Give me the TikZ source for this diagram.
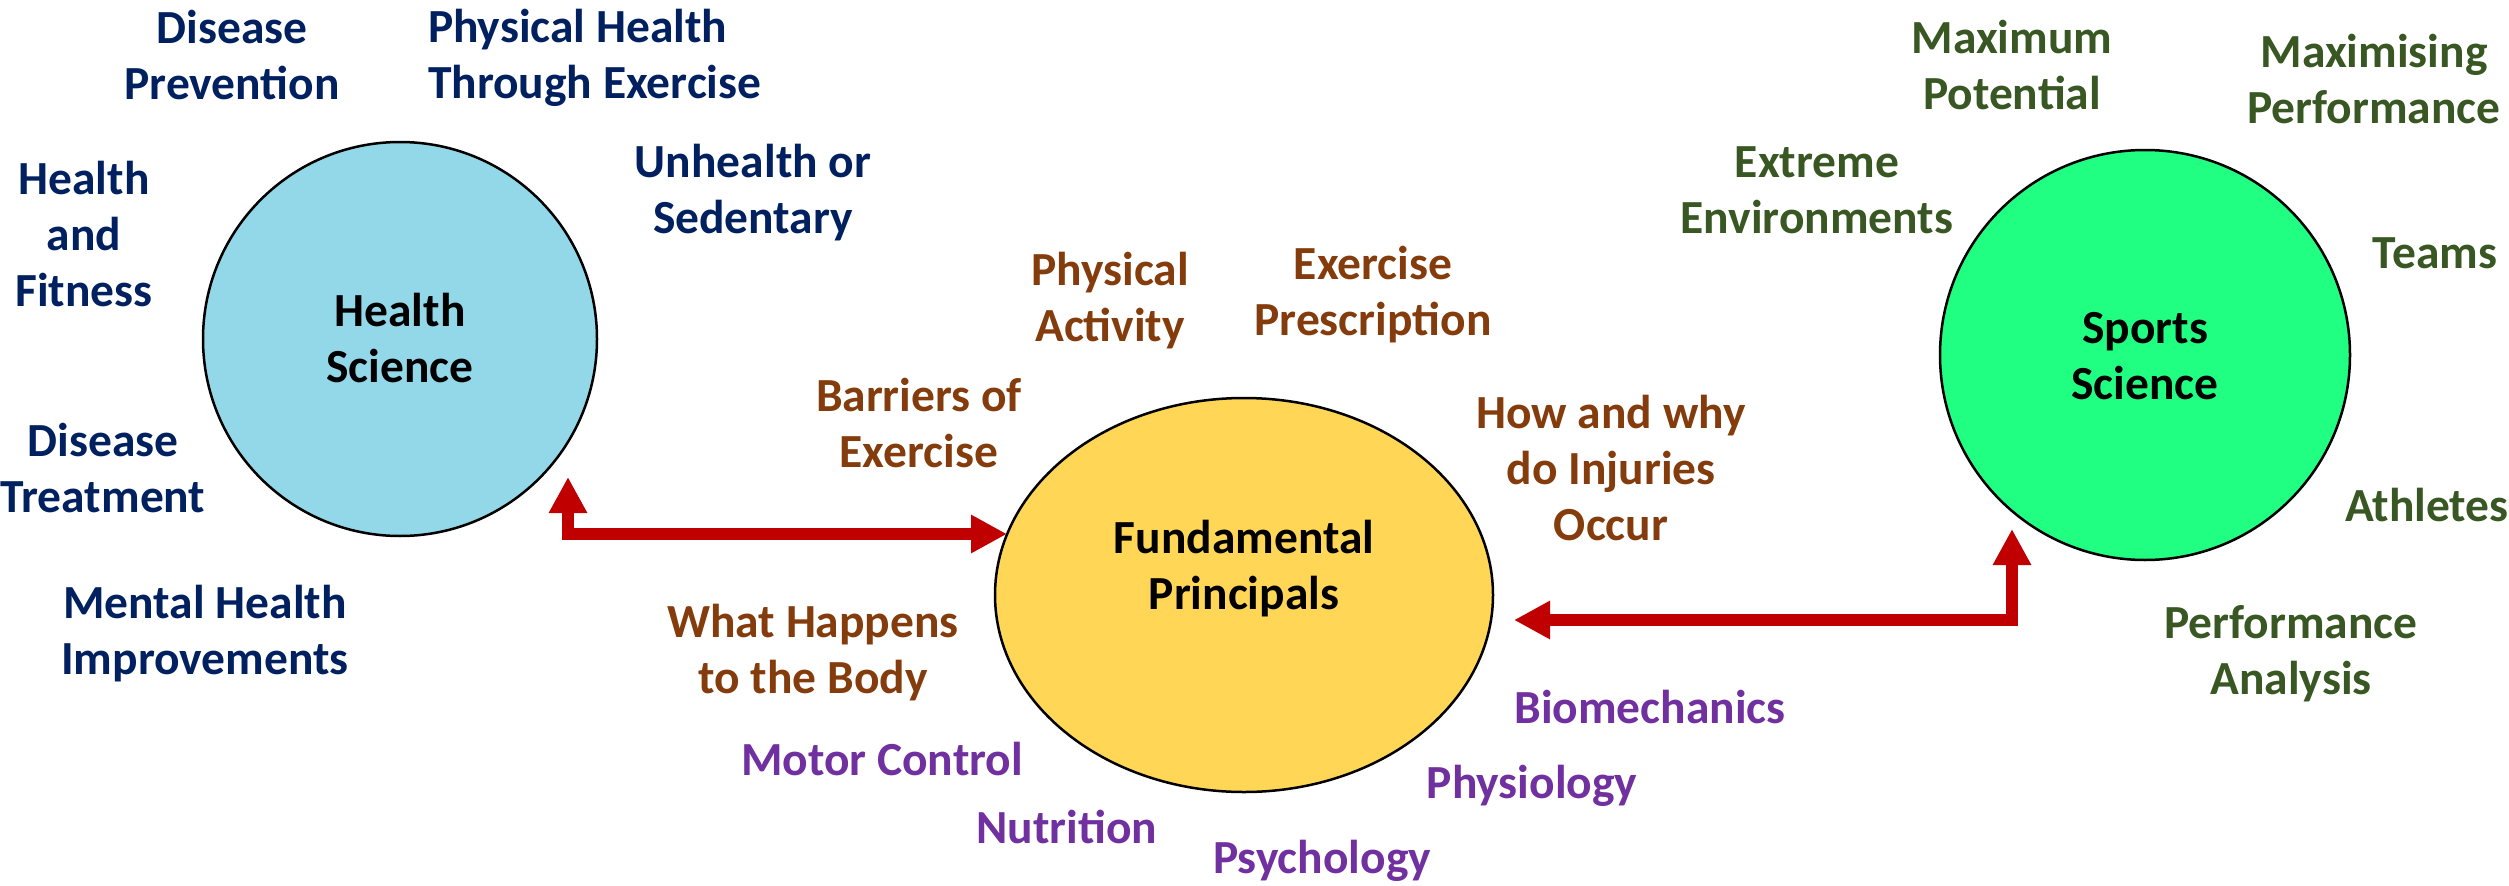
\documentclass[tikz,border=0pt]{standalone}
\usepackage{fontspec}
\setmainfont{Carlito}
\usetikzlibrary{arrows.meta,shapes.geometric}

\definecolor{navy}{HTML}{002060}
\definecolor{rust}{HTML}{843C0C}
\definecolor{plum}{HTML}{7030A0}
\definecolor{moss}{HTML}{385723}
\definecolor{arrowred}{HTML}{C00000}
\definecolor{skyfill}{HTML}{93D8E9}
\definecolor{sunfill}{HTML}{FFD655}
\definecolor{mintfill}{HTML}{20FF82}

% stacked lines whose baseline is the baseline of the first line
\newcommand{\stackc}[1]{\begin{tabular}[t]{@{}c@{}}#1\end{tabular}}
\newcommand{\stackl}[1]{\begin{tabular}[t]{@{}l@{}}#1\end{tabular}}

\tikzset{
  txt/.style={inner sep=0pt, outer sep=0pt, anchor=base,
              font=\fontsize{47.5}{56}\selectfont\bfseries},
  healthtxt/.style={txt, text=navy},
  coretxt/.style={txt, text=rust},
  disctxt/.style={txt, text=plum},
  sporttxt/.style={txt, text=moss},
  titletxt/.style={txt, text=black},
  topic/.style={draw=black, line width=2.5pt, inner sep=0pt},
  link/.style={draw=arrowred, line width=12pt, line join=miter,
               {Triangle[length=36pt,width=36pt]}-{Triangle[length=36pt,width=36pt]}}
}

\begin{document}
\begin{tikzpicture}[x=1pt, y=-1pt]
  \fill[white] (0,0) rectangle (2509,886);
  \useasboundingbox (0,0) rectangle (2509,886);

  % the three fields
  \node[topic, circle, minimum size=394pt, fill=skyfill] (hs) at (400,339) {};
  \node[topic, ellipse, minimum width=498pt, minimum height=394pt, fill=sunfill] (fp) at (1244,595) {};
  \node[topic, circle, minimum size=410pt, fill=mintfill] (ss) at (2145,355) {};

  \node[titletxt] (hstitle) at (400,326) {\stackc{Health\\Science}};
  \node[titletxt] (fptitle) at (1244,553) {\stackc{Fundamental\\Principals}};
  \node[titletxt] (sstitle) at (2145,343) {\stackc{Sports\\Science}};

  % health science topics
  \node[healthtxt] (prev) at (232,43) {\stackc{Disease\\Prevention}};
  \node[healthtxt, anchor=base west] (phys) at (428,42) {\stackl{Physical Health\\Through Exercise}};
  \node[healthtxt] (fit) at (84,194) {\stackc{Health\\and\\Fitness}};
  \node[healthtxt] (sed) at (753,177) {\stackc{Unhealth or\\Sedentary}};
  \node[healthtxt] (treat) at (103,456) {\stackc{Disease\\Treatment}};
  \node[healthtxt] (mental) at (205,618) {\stackc{Mental Health\\Improvements}};

  % fundamental principles topics
  \node[coretxt] (activity) at (1110,285) {\stackc{Physical\\Activity}};
  \node[coretxt] (prescr) at (1373,279) {\stackc{Exercise\\Prescription}};
  \node[coretxt] (barriers) at (919,411) {\stackc{Barriers of\\Exercise}};
  \node[coretxt] (injury) at (1611,428) {\stackc{How and why\\do Injuries\\Occur}};
  \node[coretxt] (body) at (813,637) {\stackc{What Happens\\to the Body}};

  % disciplines
  \node[disctxt] (motor) at (882,775) {Motor Control};
  \node[disctxt] (nutri) at (1067,843) {Nutrition};
  \node[disctxt] (psych) at (1322,873) {Psychology};
  \node[disctxt] (physio) at (1532,798) {Physiology};
  \node[disctxt] (biomech) at (1650,723) {Biomechanics};

  % sports science topics
  \node[sporttxt] (maxpot) at (2012,53) {\stackc{Maximum\\Potential}};
  \node[sporttxt] (maxperf) at (2374,67) {\stackc{Maximising\\Performance}};
  \node[sporttxt] (extreme) at (1817,177) {\stackc{Extreme\\Environments}};
  \node[sporttxt] (teams) at (2435,268) {Teams};
  \node[sporttxt] (athletes) at (2427,521) {Athletes};
  \node[sporttxt] (analysis) at (2291,638) {\stackc{Performance\\Analysis}};

  % connectors
  \coordinate (hsdock) at (568,477);
  \coordinate (fpwest) at (1007,534);
  \coordinate (fpeast) at (1514,620);
  \coordinate (ssdock) at (2012,529);
  \draw[link] (hsdock) |- (fpwest);
  \draw[link] (fpeast) -| (ssdock);
\end{tikzpicture}
\end{document}
